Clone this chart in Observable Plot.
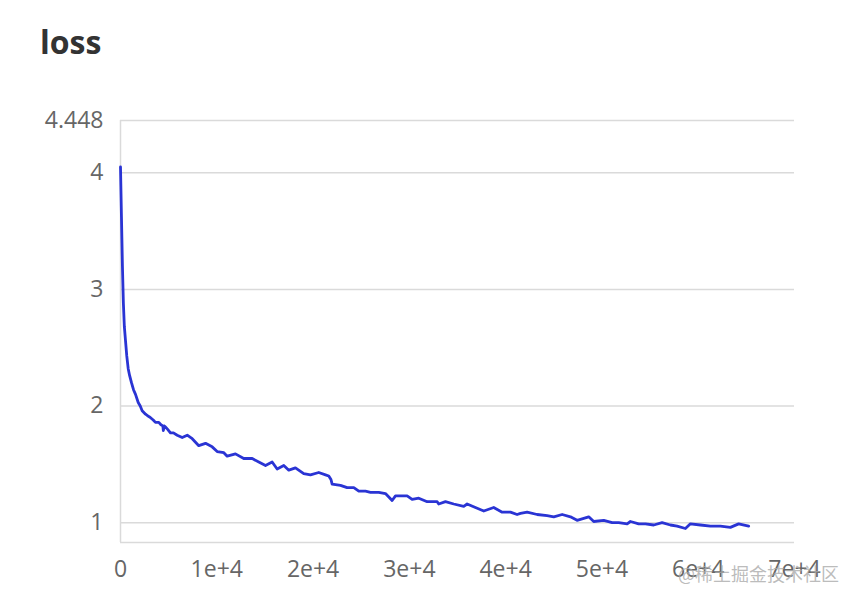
<!DOCTYPE html>
<html>
<head>
<meta charset="utf-8">
<script src="https://cdn.jsdelivr.net/npm/d3@7"></script>
<script src="https://cdn.jsdelivr.net/npm/@observablehq/plot@0.6"></script>
<style>
  html, body { margin: 0; padding: 0; background: #fff; }
  #wrap { position: relative; width: 856px; height: 602px; overflow: hidden; font-family: "Open Sans", sans-serif; }
  #title { position: absolute; left: 40px; top: 20px; font-size: 32px; font-weight: 700; color: #333; line-height: 1.362; }
  #chart { position: absolute; left: 0; top: 70px; }
  #mark { position: absolute; left: 678px; top: 560px; font-size: 18px; color: rgba(170,170,170,0.8); font-family: "Noto Sans CJK SC", sans-serif; white-space: nowrap; }
</style>
</head>
<body>
<div id="wrap">
  <div id="title">loss</div>
  <div id="chart"></div>
  <div id="mark">@稀土掘金技术社区</div>
</div>
<script>
const steps = [0, 100, 200, 300, 400, 520, 650, 800, 950, 1140, 1350, 1560, 1840, 2050, 2250, 2600, 2940, 3120, 3400, 3630, 3980, 4200, 4400, 4450, 4550, 4670, 4900, 5190, 5500, 5890, 6410, 6930, 7450, 8130, 8830, 9520, 10040, 10730, 11080, 11940, 12800, 13680, 14360, 15060, 15750, 16270, 16960, 17480, 18170, 19030, 19730, 20590, 21290, 21630, 21860, 21980, 22850, 23540, 24230, 24750, 25440, 25960, 26820, 27520, 28210, 28560, 29770, 30290, 30980, 31850, 32890, 33050, 33750, 34610, 35650, 36000, 36860, 37730, 38760, 39640, 40500, 41190, 41540, 42230, 43270, 44310, 45000, 45870, 46730, 47420, 48630, 49150, 50190, 51060, 51740, 52620, 52960, 53820, 54520, 55380, 56250, 57110, 57810, 58670, 59190, 60230, 61270, 62300, 63340, 64200, 65240];
const loss = [4.05, 3.62, 3.20, 2.88, 2.68, 2.56, 2.43, 2.32, 2.26, 2.20, 2.14, 2.10, 2.03, 2.00, 1.96, 1.93, 1.91, 1.90, 1.88, 1.86, 1.86, 1.84, 1.83, 1.79, 1.83, 1.82, 1.80, 1.77, 1.77, 1.75, 1.73, 1.75, 1.72, 1.66, 1.68, 1.65, 1.61, 1.60, 1.57, 1.59, 1.55, 1.55, 1.52, 1.49, 1.52, 1.46, 1.49, 1.45, 1.47, 1.42, 1.41, 1.43, 1.41, 1.40, 1.37, 1.33, 1.32, 1.30, 1.30, 1.27, 1.27, 1.26, 1.26, 1.25, 1.19, 1.23, 1.23, 1.20, 1.21, 1.18, 1.18, 1.16, 1.18, 1.16, 1.14, 1.16, 1.13, 1.10, 1.13, 1.09, 1.09, 1.07, 1.08, 1.09, 1.07, 1.06, 1.05, 1.07, 1.05, 1.02, 1.05, 1.01, 1.02, 1.00, 1.00, 0.99, 1.01, 0.99, 0.99, 0.98, 1.00, 0.98, 0.97, 0.95, 0.99, 0.98, 0.97, 0.97, 0.96, 0.99, 0.97];
const yTicks = [1, 2, 3, 4, 4.448];
const xTicks = [0, 10000, 20000, 30000, 40000, 50000, 60000, 70000];
const xTickLabels = ["0", "1e+4", "2e+4", "3e+4", "4e+4", "5e+4", "6e+4", "7e+4"];
const yDomain = [0.83, 4.448];
const xDomain = [0, 70000];

const data = steps.map((s, i) => ({step: s, loss: loss[i]}));

const chart = Plot.plot({
  width: 856,
  height: 532,
  marginTop: 50,
  marginBottom: 60,
  marginLeft: 120,
  marginRight: 62,
  x: {domain: xDomain},
  y: {domain: yDomain},
  style: {fontFamily: "'Open Sans', sans-serif", fontSize: "23px", color: "#666", background: "#fff", overflow: "visible"},
  marks: [
    Plot.ruleY(yTicks.concat([yDomain[0]]), {stroke: "#dadada", strokeWidth: 1.5}),
    Plot.ruleX([xDomain[0]], {stroke: "#dadada", strokeWidth: 1.5}),
    Plot.axisY({ticks: yTicks, tickSize: 0, tickPadding: 17, tickFormat: d => String(d), label: null, fontSize: 23, fill: "#666"}),
    Plot.axisX({ticks: xTicks, tickSize: 0, tickPadding: 18, tickFormat: d => xTickLabels[xTicks.indexOf(d)], label: null, fontSize: 23, fill: "#666"}),
    Plot.line(data, {x: "step", y: "loss", stroke: "#2a34d4", strokeWidth: 2.8, strokeLinejoin: "round"})
  ]
});
document.getElementById("chart").appendChild(chart);
</script>
</body>
</html>
